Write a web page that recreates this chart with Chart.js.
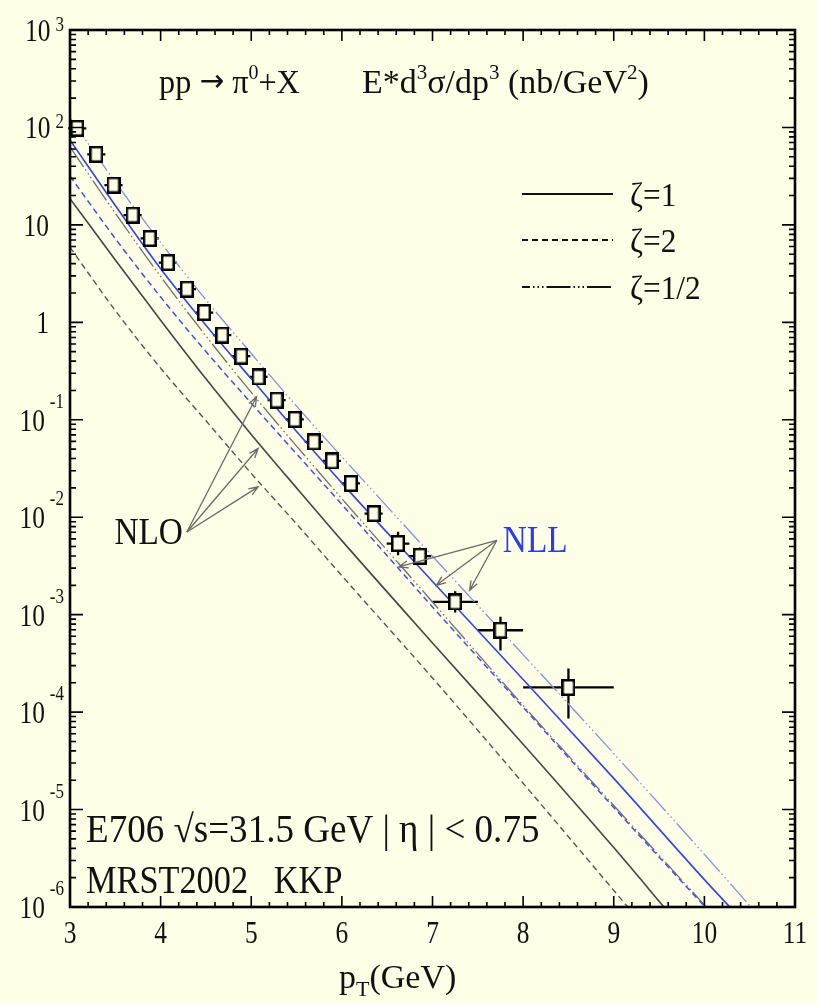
<!DOCTYPE html>
<html>
<head>
<meta charset="utf-8">
<title>pp → π0+X, E706</title>
<script src="https://cdn.jsdelivr.net/npm/chart.js@4.4.1/dist/chart.umd.min.js"></script>
<style>
  html, body { margin: 0; padding: 0; background: #fffee6; overflow: hidden; }
  canvas { display: block; }
</style>
</head>
<body>
<canvas id="xsec" width="817" height="1003"></canvas>
<script>
// ---- E706 measurement: pT (GeV) and E d3sigma/dp3 (nb/GeV^2) ----
const dataPt    = [3.08, 3.29, 3.48, 3.69, 3.88, 4.08, 4.29, 4.48, 4.68, 4.89, 5.08,
                   5.28, 5.48, 5.69, 5.89, 6.10, 6.35, 6.62, 6.86, 7.25, 7.75, 8.50];
const dataXsec  = [98, 53, 25.6, 12.6, 7.26, 4.10, 2.19, 1.26, 0.74, 0.45, 0.275,
                   0.159, 0.101, 0.0593, 0.0378, 0.0222, 0.0109, 5.37e-3, 3.98e-3, 1.35e-3, 6.92e-4, 1.79e-4];
const dataPtErr = [0.1, 0.1, 0.1, 0.1, 0.1, 0.1, 0.1, 0.1, 0.1, 0.1, 0.1,
                   0.1, 0.1, 0.1, 0.1, 0.1, 0.1, 0.125, 0.125, 0.25, 0.25, 0.5];
const dataXsecHigh = [null, null, null, null, null, null, null, null, null, null, null,
                      null, null, null, null, null, null, 7.08e-3, 4.9e-3, 1.74e-3, 9.5e-4, 2.8e-4];
const dataXsecLow  = [null, null, null, null, null, null, null, null, null, null, null,
                      null, null, null, null, null, null, 4.07e-3, 3.24e-3, 1.05e-3, 4.3e-4, 8.6e-5];

// ---- NLO predictions, scale choice zeta = mu/pT ----
const nloZ1Pt   = [3.0, 3.5, 4.0, 4.5, 5.0, 5.5, 6.0, 7.0, 8.0, 9.0, 9.6];
const nloZ1     = [18.6, 4.37, 1.05, 0.263, 0.0708, 0.0200, 5.75e-3, 5.13e-4, 4.68e-5, 4.07e-6, 8.9e-7];
const nloZ2Pt   = [3.0, 3.5, 4.0, 4.5, 5.0, 5.5, 6.0, 7.0, 8.0, 9.0, 9.3];
const nloZ2     = [5.89, 1.32, 0.339, 0.0977, 0.0282, 8.51e-3, 2.51e-3, 2.24e-4, 1.86e-5, 1.48e-6, 6.9e-7];
const nloZhPt   = [3.0, 3.5, 4.0, 4.5, 5.0, 5.5, 6.0, 7.0, 8.0, 9.0, 10.0, 10.1];
const nloZh     = [63.1, 13.2, 2.95, 0.724, 0.191, 0.0537, 0.0155, 1.35e-3, 1.17e-4, 1.10e-5, 1.05e-6, 8.3e-7];

// ---- NLL resummed predictions ----
const nllZ1Pt   = [3.0, 3.5, 4.0, 4.5, 5.0, 5.5, 6.0, 7.0, 8.0, 9.0, 10.0, 10.4];
const nllZ1     = [74.1, 15.8, 3.55, 0.933, 0.263, 0.0759, 0.0224, 2.19e-3, 2.16e-4, 2.09e-5, 1.91e-6, 7.6e-7];
const nllZ2Pt   = [3.0, 3.5, 4.0, 4.5, 5.0, 5.5, 6.0, 7.0, 8.0, 9.0, 10.0, 10.1];
const nllZ2     = [31.6, 7.24, 1.82, 0.501, 0.148, 0.0447, 0.0135, 1.20e-3, 1.12e-4, 1.05e-5, 1.02e-6, 8.1e-7];
const nllZhPt   = [3.0, 3.5, 4.0, 4.5, 5.0, 5.5, 6.0, 7.0, 8.0, 9.0, 10.0, 10.6];
const nllZh     = [126, 27.5, 6.61, 1.70, 0.479, 0.138, 0.0417, 3.98e-3, 3.89e-4, 3.76e-5, 3.47e-6, 8.1e-7];

// ---- axis ticks ----
const xTickValues = [3, 4, 5, 6, 7, 8, 9, 10, 11];
const xTickLabels = ['3', '4', '5', '6', '7', '8', '9', '10', '11'];
const yTickValues = [1e3, 1e2, 1e1, 1, 1e-1, 1e-2, 1e-3, 1e-4, 1e-5, 1e-6];
const yTickBases  = ['10', '10', '10', '1', '10', '10', '10', '10', '10', '10'];
const yTickExps   = ['3', '2', '', '', '-1', '-2', '-3', '-4', '-5', '-6'];

// ---- legend ----
const legendLabels = ['ζ=1', 'ζ=2', 'ζ=1/2'];

// ---- styling ----
const BG = '#fffee6';
const SERIF = '"Liberation Serif", "Times New Roman", Times, serif';
const SYMBOL = '"DejaVu Sans", sans-serif';
const DASH_Z2 = [6, 4];
const DASH_ZH = [24, 3, 1.5, 3, 1.5, 3, 1.5, 3];

function pts(xs, ys) { return xs.map((x, i) => ({ x: x, y: ys[i] })); }

function makeMarker() {
  const c = document.createElement('canvas');
  c.width = 14; c.height = 17;
  const g = c.getContext('2d');
  g.fillStyle = BG;
  g.fillRect(1, 1, 12, 15);
  g.strokeStyle = '#000';
  g.lineWidth = 2.5;
  g.strokeRect(1.25, 1.25, 11.5, 14.5);
  return c;
}

function curve(label, xs, ys, color, width, dash, order) {
  return {
    label: label, data: pts(xs, ys), borderColor: color, borderWidth: width,
    borderDash: dash, pointRadius: 0, fill: false, clip: 0,
    cubicInterpolationMode: 'monotone', order: order
  };
}

// draws a string with optional horizontal squeeze, returns its drawn width
function text(ctx, s, x, y, size, opt) {
  opt = opt || {};
  const sx = opt.sx || 1;
  ctx.save();
  ctx.font = size + 'px ' + (opt.family || SERIF);
  ctx.fillStyle = opt.color || '#111';
  ctx.textBaseline = opt.baseline || 'alphabetic';
  ctx.textAlign = 'left';
  const w = ctx.measureText(s).width * sx;
  let x0 = x;
  if (opt.align === 'right') x0 = x - w;
  else if (opt.align === 'center') x0 = x - w / 2;
  ctx.translate(x0, y);
  ctx.scale(sx, 1);
  ctx.fillText(s, 0, 0);
  ctx.restore();
  return w;
}

function runs(ctx, parts, x, y, sx, color) {
  let cx = x;
  for (const p of parts) {
    cx += text(ctx, p.t, cx, y + (p.dy || 0), p.size, { sx: sx, color: color, family: p.family });
  }
  return cx - x;
}

function arrow(ctx, x0, y0, x1, y1) {
  const a = Math.atan2(y1 - y0, x1 - x0), L = 10, s = 0.36;
  ctx.beginPath();
  ctx.moveTo(x0, y0); ctx.lineTo(x1, y1);
  ctx.moveTo(x1 - L * Math.cos(a - s), y1 - L * Math.sin(a - s));
  ctx.lineTo(x1, y1);
  ctx.lineTo(x1 - L * Math.cos(a + s), y1 - L * Math.sin(a + s));
  ctx.stroke();
}

// annotation anchors in (pT, cross section) coordinates
const nloTail  = [4.29, 7.06e-3];
const nloHeads = [[5.058, 0.172], [5.076, 0.0507], [5.076, 0.0205]];
const nllTail  = [7.71, 5.8e-3];
const nllHeads = [[6.627, 3.09e-3], [7.043, 2.0e-3], [7.41, 1.78e-3]];

const errorBars = {
  id: 'errorBars',
  beforeDatasetsDraw(chart) {
    const { ctx, scales: { x, y } } = chart;
    ctx.save();
    ctx.strokeStyle = '#000';
    ctx.lineWidth = 2.3;
    ctx.beginPath();
    dataPt.forEach((pt, i) => {
      const px = x.getPixelForValue(pt), py = y.getPixelForValue(dataXsec[i]);
      ctx.moveTo(x.getPixelForValue(pt - dataPtErr[i]), py);
      ctx.lineTo(x.getPixelForValue(pt + dataPtErr[i]), py);
      if (dataXsecHigh[i] !== null) {
        ctx.moveTo(px, y.getPixelForValue(dataXsecHigh[i]));
        ctx.lineTo(px, y.getPixelForValue(dataXsecLow[i]));
      }
    });
    ctx.stroke();
    ctx.restore();
  }
};

const frame = {
  id: 'frame',
  beforeDraw(chart) {
    const ctx = chart.ctx;
    ctx.save();
    ctx.fillStyle = BG;
    ctx.fillRect(0, 0, chart.width, chart.height);
    ctx.restore();
  },
  afterDraw(chart) {
    const { ctx, chartArea: a, scales: { x, y } } = chart;
    ctx.save();

    // inward tick marks on all four sides
    ctx.strokeStyle = '#000';
    ctx.lineWidth = 1.6;
    ctx.beginPath();
    for (let v = x.min; v <= x.max + 1e-6; v += 0.2) {
      const px = x.getPixelForValue(v);
      const major = Math.abs(v - Math.round(v)) < 1e-6;
      const len = major ? 11 : 5;
      ctx.moveTo(px, a.bottom); ctx.lineTo(px, a.bottom - len);
      ctx.moveTo(px, a.top); ctx.lineTo(px, a.top + len);
    }
    yTickValues.forEach((d) => {
      const py = y.getPixelForValue(d);
      ctx.moveTo(a.left, py); ctx.lineTo(a.left + 13, py);
      ctx.moveTo(a.right, py); ctx.lineTo(a.right - 13, py);
      if (d < y.max) {
        for (let k = 2; k <= 9; k++) {
          const pm = y.getPixelForValue(d * k);
          ctx.moveTo(a.left, pm); ctx.lineTo(a.left + 6, pm);
          ctx.moveTo(a.right, pm); ctx.lineTo(a.right - 6, pm);
        }
      }
    });
    ctx.stroke();

    ctx.lineWidth = 2.6;
    ctx.strokeRect(a.left, a.top, a.right - a.left, a.bottom - a.top);

    // x tick labels
    xTickValues.forEach((v, i) => {
      text(ctx, xTickLabels[i], x.getPixelForValue(v), a.bottom + 36, 31, { sx: 0.82, align: 'center' });
    });

    // y tick labels as 10 with raised exponent
    yTickValues.forEach((v, i) => {
      const py = y.getPixelForValue(v);
      const base = yTickBases[i], ex = yTickExps[i];
      if (!ex) {
        text(ctx, base, 49, py + 11, 31, { sx: 0.82, align: 'right' });
        return;
      }
      ctx.font = '31px ' + SERIF;
      const bw = ctx.measureText(base).width * 0.82;
      ctx.font = '20px ' + SERIF;
      const ew = ctx.measureText(ex).width * 0.85;
      const x0 = 64 - (bw + 5 + ew);
      text(ctx, base, x0, py + 11, 31, { sx: 0.82 });
      const ey = ex.charAt(0) === '-' ? py - 12 : py + 1;
      text(ctx, ex, x0 + bw + 5, ey, 20, { sx: 0.85 });
    });

    // x axis title
    const tx = 339;
    let w = text(ctx, 'p', tx, 988, 34);
    w += text(ctx, 'T', tx + w, 996, 22);
    text(ctx, '(GeV)', tx + w, 988, 34);

    // process and observable
    runs(ctx, [{ t: 'pp ', size: 34 }, { t: '→', size: 31, dy: -2, family: SYMBOL }, { t: ' π', size: 34 },
               { t: '0', size: 21, dy: -14 }, { t: '+X', size: 34 }], 159, 93, 0.95);
    runs(ctx, [{ t: 'E*d', size: 34 }, { t: '3', size: 21, dy: -14 }, { t: 'σ/dp', size: 34 },
               { t: '3', size: 21, dy: -14 }, { t: ' (nb/GeV', size: 34 }, { t: '2', size: 21, dy: -14 },
               { t: ')', size: 34 }], 362, 93, 1.0);

    // experiment and inputs
    text(ctx, 'E706 √s=31.5 GeV | η | < 0.75', 86, 842, 39, { sx: 0.95 });
    text(ctx, 'MRST2002   KKP', 86, 893, 39, { sx: 0.88 });

    // arrows pointing at the curve families
    ctx.strokeStyle = '#6a6a6a';
    ctx.lineWidth = 1.3;
    const P = (p) => [x.getPixelForValue(p[0]), y.getPixelForValue(p[1])];
    const nt = P(nloTail);
    nloHeads.forEach((h) => { const hp = P(h); arrow(ctx, nt[0], nt[1], hp[0], hp[1]); });
    const lt = P(nllTail);
    nllHeads.forEach((h) => { const hp = P(h); arrow(ctx, lt[0], lt[1], hp[0], hp[1]); });
    text(ctx, 'NLO', nt[0] - 4, nt[1] + 12, 37, { sx: 0.9, align: 'right' });
    text(ctx, 'NLL', lt[0] + 6, lt[1] + 12, 37, { sx: 0.9, color: '#2a3cf0' });

    // legend
    const dashes = [[], DASH_Z2, DASH_ZH];
    const ly = [194, 240, 287];
    ctx.strokeStyle = '#111';
    ctx.lineWidth = 2;
    legendLabels.forEach((lab, i) => {
      ctx.setLineDash(dashes[i]);
      ctx.lineDashOffset = i === 2 ? 16 : 0;
      ctx.beginPath();
      ctx.moveTo(522, ly[i]); ctx.lineTo(613, ly[i]);
      ctx.stroke();
      ctx.setLineDash([]);
      text(ctx, lab, 630, ly[i] + 12, 33, { sx: 0.95 });
    });

    ctx.restore();
  }
};

new Chart(document.getElementById('xsec'), {
  type: 'line',
  data: {
    datasets: [
      {
        label: 'E706', data: pts(dataPt, dataXsec), showLine: false,
        pointStyle: makeMarker(), pointRadius: 8, borderColor: '#000',
        backgroundColor: BG, order: 0
      },
      curve('NLL ζ=1/2', nllZhPt, nllZh, '#8090ef', 1.3, DASH_ZH, 1),
      curve('NLL ζ=1',   nllZ1Pt, nllZ1, '#2f45ef', 1.6, [],      1),
      curve('NLL ζ=2',   nllZ2Pt, nllZ2, '#3b52ef', 1.5, DASH_Z2, 1),
      curve('NLO ζ=1/2', nloZhPt, nloZh, '#707070', 1.3, DASH_ZH, 2),
      curve('NLO ζ=1',   nloZ1Pt, nloZ1, '#454545', 1.6, [],      2),
      curve('NLO ζ=2',   nloZ2Pt, nloZ2, '#555555', 1.4, DASH_Z2, 2)
    ]
  },
  options: {
    responsive: false,
    animation: false,
    devicePixelRatio: 1,
    events: [],
    layout: { padding: { left: 70, right: 22, top: 30, bottom: 96 } },
    scales: {
      x: { type: 'linear', min: 3, max: 11, display: false },
      y: { type: 'logarithmic', min: 1e-6, max: 1e3, display: false }
    },
    plugins: { legend: { display: false }, tooltip: { enabled: false } }
  },
  plugins: [frame, errorBars]
});
</script>
</body>
</html>
